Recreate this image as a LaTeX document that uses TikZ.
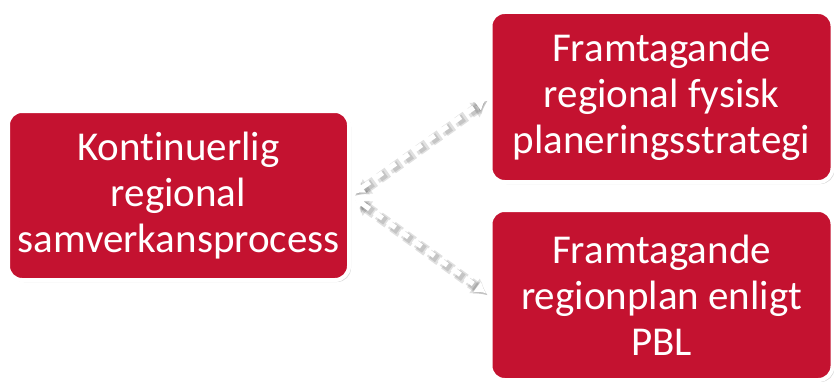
\documentclass[tikz,border=0pt]{standalone}
\usepackage{fontspec}
\setmainfont{Carlito}[Ligatures=NoCommon]
\usetikzlibrary{arrows.meta,positioning,shadows}
\definecolor{regionred}{HTML}{C41230}
\tikzset{
    %Define standard arrow tip
    >={Latex[length=11pt,width=14pt]},
    %Define style for boxes
    box/.style={
           rectangle,
           rounded corners=14pt,
           fill=regionred,
           draw=white,
           line width=4pt,
           text=white,
           align=center,
           font=\fontsize{41}{46}\selectfont,
           minimum width=342pt,
           minimum height=170pt,
           drop shadow={opacity=0.3, shadow xshift=2pt, shadow yshift=-2pt},},
    %Define style for connectors
    pil/.style={
           <->,
           white,
           line width=5pt,
           dash pattern=on 10pt off 6pt,
           shorten <=3pt,
           shorten >=3pt,},
    pilshadow/.style={
           pil,
           >={Latex[length=#1+5pt,width=#1+8pt]},
           black,
           line width=#1,
           opacity=0.12,
           transform canvas={xshift=1.5pt, yshift=-2pt},}
}
\begin{document}
\begin{tikzpicture}[x=1pt, y=1pt, node distance=24pt]
 \useasboundingbox (0,0) rectangle (834,381);
 %nodes
 \node[box, minimum width=341pt, minimum height=169pt] (process) at (178.5,185.5) {Kont\kern0pt inuerlig\\regional\\samverkansprocess};
 \node[box] (strategy) at (661.5,284) {Framtagande\\regional fysisk\\planeringsstrategi};
 \node[box, below=of strategy] (plan) {Framtagande\\regionplan enligt\\PBL};

 %connectors
 \foreach \w in {11pt,8pt}{
   \draw[pilshadow=\w] (process.east) -- (strategy.west);
   \draw[pilshadow=\w] (process.east) -- (plan.west);
 }
 \draw[pil] (process.east) -- (strategy.west);
 \draw[pil] (process.east) -- (plan.west);

\end{tikzpicture}
\end{document}
